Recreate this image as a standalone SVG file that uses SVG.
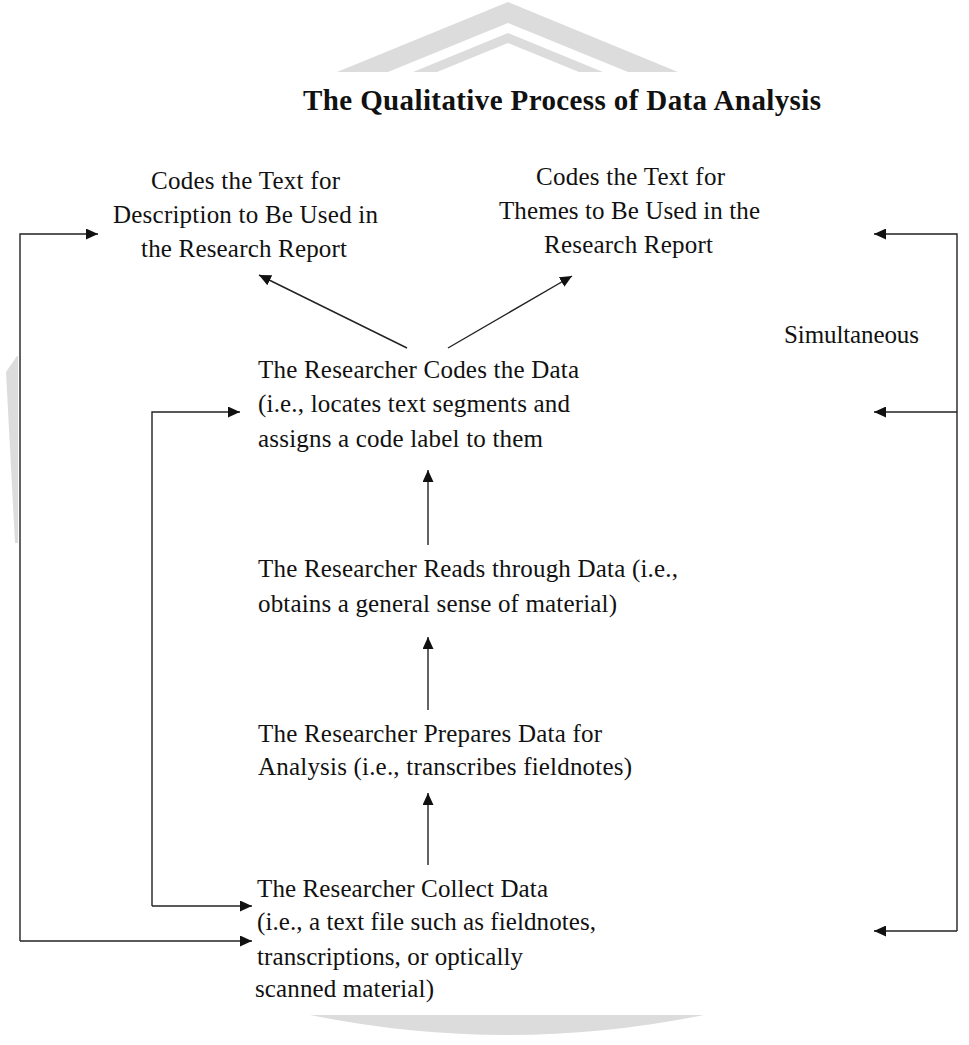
<svg xmlns="http://www.w3.org/2000/svg" width="969" height="1045" viewBox="0 0 969 1045">
<style>
.t{font-family:"Liberation Serif","Times New Roman",serif;font-size:25px;fill:#111}
.title{font-family:"Liberation Serif","Times New Roman",serif;font-size:29px;font-weight:bold;fill:#111}
.ln{stroke:#222;stroke-width:1.4;fill:none}
.wm{fill:#dcdcdc}
</style>
<defs>
<marker id="ah" markerUnits="userSpaceOnUse" markerWidth="13" markerHeight="11" refX="12" refY="5.5" orient="auto">
<path d="M0,0 L12,5.5 L0,11 z" fill="#111"/>
</marker>
</defs>
<rect width="969" height="1045" fill="#fff"/>
<g id="watermark">
<path class="wm" d="M337,72 L508,2 L678,72 L628,72 L508,23 L388,72 Z"/>
<path class="wm" d="M413,72 L508,33 L603,72 L579,72 L508,43 L437,72 Z" fill="#e2e2e2"/>
<path class="wm" d="M310,1015 L704,1015 Q507,1055 310,1015 Z"/>
<path class="wm" d="M17,356 L6,372 L15,543 L18,543 L18,356 Z"/>
</g>
<text class="title" x="303" y="110" textLength="518">The Qualitative Process of Data Analysis</text>
<g id="connectors">
<line class="ln" x1="407" y1="348" x2="259" y2="275" marker-end="url(#ah)"/>
<line class="ln" x1="448" y1="348" x2="572" y2="276" marker-end="url(#ah)"/>
<line class="ln" x1="428" y1="545" x2="428" y2="470" marker-end="url(#ah)"/>
<line class="ln" x1="428" y1="710" x2="428" y2="637" marker-end="url(#ah)"/>
<line class="ln" x1="428" y1="865" x2="428" y2="793" marker-end="url(#ah)"/>
<polyline class="ln" points="20,941 20,234 98,234" marker-end="url(#ah)"/>
<line class="ln" x1="20" y1="941" x2="252" y2="941" marker-end="url(#ah)"/>
<polyline class="ln" points="152,906 152,412 240,412" marker-end="url(#ah)"/>
<line class="ln" x1="152" y1="906" x2="252" y2="906" marker-end="url(#ah)"/>
<polyline class="ln" points="957,931 957,234 874,234" marker-end="url(#ah)"/>
<line class="ln" x1="957" y1="412" x2="874" y2="412" marker-end="url(#ah)"/>
<line class="ln" x1="957" y1="931" x2="874" y2="931" marker-end="url(#ah)"/>
</g>
<g id="node-description">
<text class="t" x="151" y="189" textLength="189">Codes the Text for</text>
<text class="t" x="113" y="223" textLength="265">Description to Be Used in</text>
<text class="t" x="141" y="257" textLength="206">the Research Report</text>
</g>
<g id="node-themes">
<text class="t" x="536" y="185" textLength="189">Codes the Text for</text>
<text class="t" x="499" y="219" textLength="261">Themes to Be Used in the</text>
<text class="t" x="544" y="253" textLength="169">Research Report</text>
</g>
<g id="label-simultaneous">
<text class="t" x="784" y="343" textLength="135">Simultaneous</text>
</g>
<g id="node-codes">
<text class="t" x="258" y="378" textLength="321">The Researcher Codes the Data</text>
<text class="t" x="258" y="412" textLength="312">(i.e., locates text segments and</text>
<text class="t" x="258" y="447" textLength="285">assigns a code label to them</text>
</g>
<g id="node-reads">
<text class="t" x="258" y="577" textLength="420">The Researcher Reads through Data (i.e.,</text>
<text class="t" x="258" y="612" textLength="359">obtains a general sense of material)</text>
</g>
<g id="node-prepares">
<text class="t" x="258" y="742" textLength="344">The Researcher Prepares Data for</text>
<text class="t" x="258" y="775" textLength="374">Analysis (i.e., transcribes fieldnotes)</text>
</g>
<g id="node-collect">
<text class="t" x="257" y="897" textLength="291">The Researcher Collect Data</text>
<text class="t" x="257" y="930" textLength="339">(i.e., a text file such as fieldnotes,</text>
<text class="t" x="257" y="965" textLength="266">transcriptions, or optically</text>
<text class="t" x="255" y="997" textLength="179">scanned material)</text>
</g>
</svg>
